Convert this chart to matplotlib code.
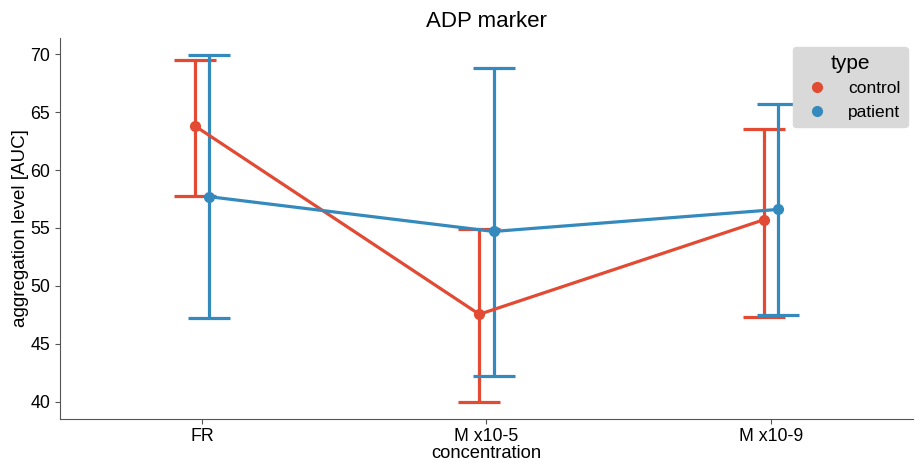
import matplotlib
matplotlib.use("Agg")
import matplotlib.pyplot as plt
import numpy as np

plt.rcParams['font.family'] = ['Liberation Sans', 'DejaVu Sans']

# data
concentrations = ['FR', 'M x10-5', 'M x10-9']
control_mean = [63.8, 47.55, 55.7]
control_low = [57.8, 40.0, 47.3]
control_high = [69.5, 54.95, 63.5]
patient_mean = [57.7, 54.7, 56.6]
patient_low = [47.2, 42.2, 47.5]
patient_high = [69.9, 68.8, 65.7]

red = '#E24A33'
blue = '#348ABD'

fig = plt.figure(figsize=(9.15, 4.63), dpi=100)
ax = fig.add_axes([0.0656, 0.096, 0.932, 0.822])

x = np.arange(len(concentrations))
for means, lows, highs, col, off, name in [
        (control_mean, control_low, control_high, red, -0.025, 'control'),
        (patient_mean, patient_low, patient_high, blue, 0.025, 'patient')]:
    means = np.array(means)
    yerr = [means - np.array(lows), np.array(highs) - means]
    ax.errorbar(x + off, means, yerr=yerr, color=col, lw=2.3, marker='o',
                markersize=7, capsize=15, capthick=2.3, elinewidth=2.3)
    ax.plot([], [], 'o', color=col, markersize=7, label=name)

ax.set_xlim(-0.5, 2.5)
ax.set_ylim(38.55, 71.4)
ax.set_xticks(x)
ax.set_xticklabels(concentrations)
ax.set_yticks([40, 45, 50, 55, 60, 65, 70])
ax.tick_params(labelsize=12.8, color='#555555')
ax.spines['top'].set_visible(False)
ax.spines['right'].set_visible(False)
ax.spines['left'].set_color('#555555')
ax.spines['bottom'].set_color('#555555')
ax.set_xlabel('concentration', fontsize=13.2, labelpad=0)
ax.set_ylabel('aggregation level [AUC]', fontsize=13.5, labelpad=1)
ax.set_title('ADP marker', fontsize=16, pad=8)

leg = ax.legend(title='type', loc='upper right', fontsize=12.5, title_fontsize=15,
                facecolor='#d9d9d9', edgecolor='#d9d9d9', framealpha=1,
                bbox_to_anchor=(1.004, 1.0))

fig.savefig('out.png', dpi=100)
